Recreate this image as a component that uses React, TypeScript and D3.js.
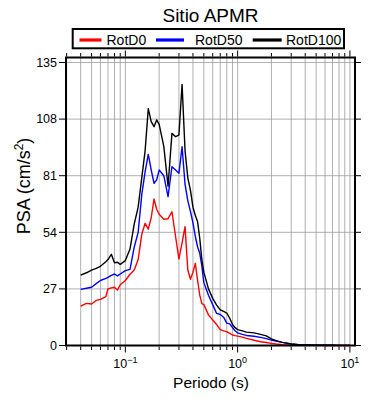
import React from "react";
import * as d3 from "d3";

const periods = [0.04, 0.045, 0.05, 0.055, 0.06, 0.067, 0.07, 0.075, 0.08, 0.085, 0.09, 0.1, 0.11, 0.12, 0.13, 0.14, 0.15, 0.16, 0.17, 0.18, 0.19, 0.2, 0.22, 0.24, 0.26, 0.28, 0.3, 0.32, 0.34, 0.36, 0.38, 0.4, 0.42, 0.44, 0.46, 0.48, 0.5, 0.55, 0.6, 0.65, 0.7, 0.75, 0.8, 0.85, 0.9, 0.95, 1.0, 1.1, 1.2, 1.4, 1.6, 1.8, 2.0, 2.2, 2.5, 3.0, 3.5, 4.0, 5.0, 6.0, 7.0, 8.0, 10.0];

const rotD100 = [33.6, 34.7, 36, 36.8, 37.8, 40, 41, 43.5, 39.5, 39.7, 38.7, 40.5, 46, 58, 66, 80, 93, 113, 106.8, 104.4, 107.6, 105.5, 95, 76, 101.2, 99.6, 100.4, 124.6, 93, 80, 74, 66, 62, 59, 51, 41, 35, 27, 22.5, 19.3, 17, 16.3, 15.5, 13, 10, 8.5, 7.6, 7, 6.4, 6, 5.3, 4.6, 3.2, 2.3, 1.5, 0.7, 0.4, 0.3, 0.2, 0.1, 0.1, 0.05, 0.04];

const rotD50 = [26.8, 27.3, 27.8, 29.5, 31, 32, 32.5, 33.5, 34.1, 33.2, 34.1, 35.7, 36.3, 47, 54, 72, 83, 91.2, 83.7, 77.4, 79, 83.7, 81, 71, 85.3, 83.7, 82.2, 94.8, 77, 69, 64, 58.5, 52, 47, 44, 38, 30, 24, 19.5, 15.3, 14.8, 13.5, 10.7, 10.3, 8.6, 7, 6, 5.3, 4.8, 4.4, 3.9, 3.3, 2.6, 2.1, 1.5, 0.8, 0.4, 0.3, 0.2, 0.1, 0.1, 0.05, 0.04];

const rotD0 = [18.8, 20.1, 19.8, 21.5, 22, 23.3, 27, 27.5, 27.8, 26.5, 29, 31, 34, 36, 41, 53, 58.3, 55.5, 61, 69.9, 65, 62.6, 60.2, 60.5, 63.8, 52, 41.3, 49, 56.7, 36, 31.6, 35, 39.2, 31, 24, 20, 19.5, 14.6, 12.2, 10, 7.6, 7, 6.6, 5.8, 5, 4.7, 4.5, 4, 3.4, 2.5, 1.8, 1.4, 1.0, 0.7, 0.4, 0.2, 0.1, 0.1, 0.05, 0.03, 0.02, 0.01, 0.01];

const seriesNames = ["RotD0", "RotD50", "RotD100"];
const seriesColors = ["#ff0000", "#0000ff", "#000000"];
const yTicks = [0, 27, 54, 81, 108, 135];
const xDecades = [0.1, 1, 10];
const xDecadeExp = ["\u22121", "0", "1"];
const title = "Sitio APMR";
const xLabel = "Periodo (s)";

const FONT = "'Liberation Sans', Arial, Helvetica, sans-serif";

export default function App() {
  const L = 66, R = 355, T = 57.5, B = 345.5;
  const x = d3.scaleLog().domain([0.0296, 11.1]).range([L, R]);
  const y = d3.scaleLinear().domain([0, 137.4]).range([B, T]);

  const minorTicks: number[] = [];
  for (const dec of [0.01, 0.1, 1, 10]) {
    for (let k = 1; k <= 9; k++) {
      const v = +(dec * k).toPrecision(3);
      if (v >= 0.0296 && v <= 11.1) minorTicks.push(v);
    }
  }
  const isMajor = (v: number) => xDecades.some((d) => Math.abs(d - v) < 1e-9);

  const series = [rotD0, rotD50, rotD100];
  const line = d3
    .line<[number, number]>()
    .x((d) => x(d[0]))
    .y((d) => y(d[1]));

  return (
    <svg width={390} height={400} style={{ position: "absolute", left: 0, top: 0, background: "#fff" }} fontFamily={FONT}>
      {/* grid */}
      {minorTicks.map((v, i) => (
        <line key={"gx" + i} x1={x(v)} x2={x(v)} y1={T} y2={B} stroke="#9a9a9a" strokeWidth={0.8} />
      ))}
      {yTicks.map((v, i) => (
        <line key={"gy" + i} x1={L} x2={R} y1={y(v)} y2={y(v)} stroke="#9a9a9a" strokeWidth={0.8} />
      ))}

      {/* curves */}
      {series.map((s, si) => (
        <path
          key={"s" + si}
          d={line(periods.map((p, i) => [p, s[i]] as [number, number])) || ""}
          fill="none"
          stroke={seriesColors[si]}
          strokeWidth={1.4}
          strokeLinejoin="round"
        />
      ))}

      {/* frame */}
      <rect x={L} y={T} width={R - L} height={B - T} fill="none" stroke="#000" strokeWidth={2} />

      {/* x ticks top & bottom */}
      {minorTicks.map((v, i) => {
        const len = isMajor(v) ? 6 : 3.5;
        return (
          <g key={"xt" + i}>
            <line x1={x(v)} x2={x(v)} y1={B + 1} y2={B + 1 + len} stroke="#000" strokeWidth={1} />
            <line x1={x(v)} x2={x(v)} y1={T - 1} y2={T - 1 - len} stroke="#000" strokeWidth={1} />
          </g>
        );
      })}
      {xDecades.map((v, i) => (
        <text key={"xl" + i} x={x(v)} y={368} fontSize={12.5} textAnchor="middle" fill="#000">
          10
          <tspan dy={-5} fontSize={9}>
            {xDecadeExp[i]}
          </tspan>
        </text>
      ))}

      {/* y ticks left & right */}
      {yTicks.map((v, i) => (
        <g key={"yt" + i}>
          <line x1={L - 7} x2={L} y1={y(v)} y2={y(v)} stroke="#000" strokeWidth={1} />
          <line x1={R} x2={R + 6} y1={y(v)} y2={y(v)} stroke="#000" strokeWidth={1} />
          <text x={L - 9} y={y(v)} dy="0.35em" fontSize={12.5} textAnchor="end" fill="#000">
            {v}
          </text>
        </g>
      ))}

      {/* axis labels */}
      <text x={211} y={388} fontSize={15.5} textAnchor="middle" fill="#000">
        {xLabel}
      </text>
      <text transform="translate(29.5,186) rotate(-90)" fontSize={18} textAnchor="middle" fill="#000">
        PSA (cm/s
        <tspan dy={-7} fontSize={12}>2</tspan>
        <tspan dy={7}>)</tspan>
      </text>

      {/* title */}
      <text x={210.5} y={21.5} fontSize={19} textAnchor="middle" fill="#000">
        {title}
      </text>

      {/* legend */}
      <rect x={72.7} y={29} width={271.3} height={19.3} fill="#fff" stroke="#000" strokeWidth={2} />
      {[
        [79.5, 101.5, 106.5],
        [156, 184, 195],
        [252.7, 281.7, 286],
      ].map((p, i) => (
        <g key={"lg" + i}>
          <line x1={p[0]} x2={p[1]} y1={40} y2={40} stroke={seriesColors[i]} strokeWidth={3.2} />
          <text x={p[2]} y={44.5} fontSize={14} fill="#000">
            {seriesNames[i]}
          </text>
        </g>
      ))}
    </svg>
  );
}
